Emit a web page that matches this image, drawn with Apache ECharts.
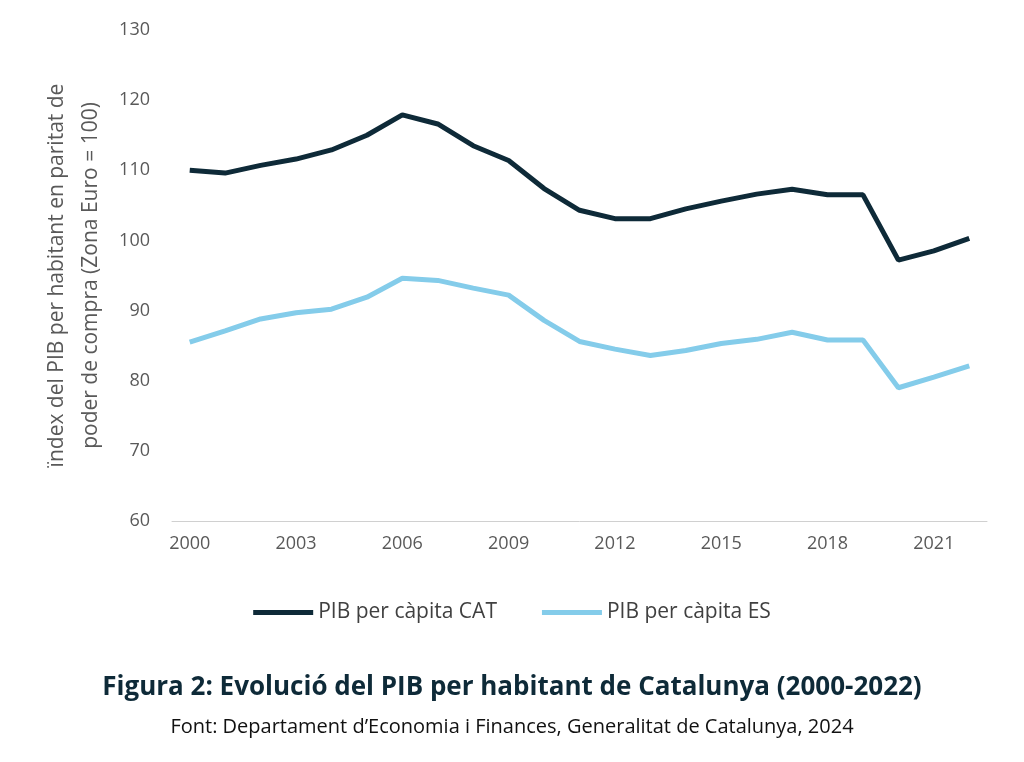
<!DOCTYPE html><html><head><meta charset="utf-8"><script src="https://cdn.jsdelivr.net/npm/echarts@6/dist/echarts.min.js"></script>
<style>body{margin:0}#c{width:1024px;height:762px}</style></head><body><div id="c"></div><script>
const years=[];for(let y=2000;y<=2022;y++)years.push(String(y));
const cat=[110.0,109.6,110.7,111.6,112.9,115.0,117.9,116.6,113.5,111.4,107.4,104.3,103.1,103.1,104.5,105.6,106.6,107.3,106.5,106.5,97.2,98.5,100.3];
const es=[85.5,87.1,88.8,89.7,90.2,91.9,94.6,94.3,93.2,92.2,88.6,85.6,84.5,83.6,84.3,85.3,85.9,86.9,85.8,85.8,79.0,80.5,82.1];
const ch=echarts.init(document.getElementById('c'));
const f="'Open Sans', 'Noto Sans', sans-serif";
ch.setOption({
 title:[{text:'Figura 2: Evolució del PIB per habitant de Catalunya (2000-2022)',left:'center',top:670,textStyle:{fontFamily:f,fontSize:26,fontWeight:'bold',color:'#0e2a38'}},
  {text:'Font: Departament d’Economia i Finances, Generalitat de Catalunya, 2024',left:'center',top:712,textStyle:{fontFamily:f,fontSize:20,fontWeight:'normal',color:'#111'}}],
 legend:{top:597,left:'center',itemWidth:60,itemGap:45,icon:'rect',itemHeight:5,textStyle:{fontFamily:f,fontSize:21,color:'#404040'},data:['PIB per càpita CAT','PIB per càpita ES']},
 grid:{left:172,right:37,top:30,bottom:241},
 xAxis:{type:'category',data:years,boundaryGap:true,axisTick:{show:false},axisLine:{lineStyle:{color:'#d0d0d0'}},
  axisLabel:{interval:2,fontFamily:f,fontSize:18,color:'#595959',margin:14}},
 yAxis:{type:'value',min:60,max:130,interval:10,splitLine:{show:false},axisLine:{show:false},axisTick:{show:false},
  axisLabel:{fontFamily:f,fontSize:18,color:'#595959',margin:22},
  name:'ïndex del PIB per habitant en paritat de\npoder de compra (Zona Euro = 100)',nameLocation:'middle',nameGap:64,nameRotate:90,
  nameTextStyle:{fontFamily:f,fontSize:21,color:'#595959',lineHeight:34}},
 series:[{name:'PIB per càpita CAT',type:'line',data:cat,symbol:'none',lineStyle:{width:5,color:'#0e2a38'},itemStyle:{color:'#0e2a38'}},
  {name:'PIB per càpita ES',type:'line',data:es,symbol:'none',lineStyle:{width:5,color:'#84ccea'},itemStyle:{color:'#84ccea'}}]
});
</script></body></html>
